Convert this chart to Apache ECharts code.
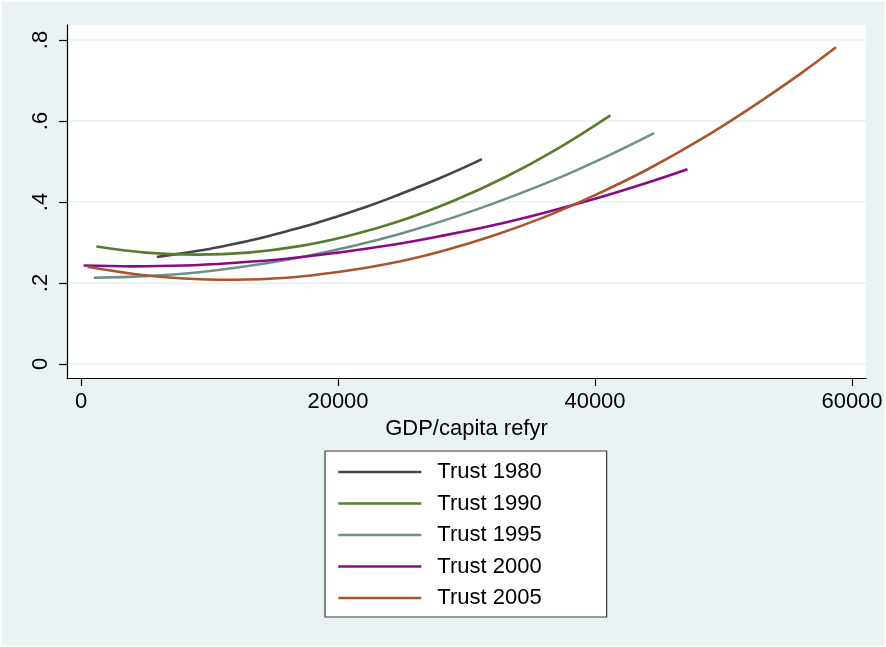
<!DOCTYPE html>
<html>
<head>
<meta charset="utf-8">
<script src="https://cdn.jsdelivr.net/npm/echarts@6/dist/echarts.min.js"></script>
<style>
  html, body { margin: 0; padding: 0; background: #ffffff; }
  #chart { width: 886px; height: 647px; }
</style>
</head>
<body>
<div id="chart"></div>
<script>
// ---- data (GDP/capita, fitted trust) ----
const gdp1980   = [5900, 8000, 10000, 12000, 14000, 16000, 18000, 20000, 22000, 24000, 26000, 28000, 30000, 31200];
const trust1980 = [0.264, 0.274, 0.284, 0.297, 0.311, 0.328, 0.345, 0.365, 0.386, 0.409, 0.434, 0.460, 0.488, 0.506];

const gdp1990   = [1200, 5000, 9000, 13000, 17000, 21000, 25000, 29000, 33000, 37000, 41200];
const trust1990 = [0.290, 0.275, 0.270, 0.275, 0.291, 0.318, 0.355, 0.403, 0.461, 0.530, 0.614];

const gdp1995   = [1000, 5000, 9000, 13000, 17000, 21000, 25000, 29000, 33000, 37000, 41000, 44600];
const trust1995 = [0.213, 0.217, 0.226, 0.242, 0.263, 0.290, 0.323, 0.362, 0.407, 0.457, 0.514, 0.570];

const gdp2000   = [200, 4000, 8000, 12000, 16000, 20000, 24000, 28000, 32000, 36000, 40000, 44000, 47200];
const trust2000 = [0.243, 0.241, 0.243, 0.250, 0.260, 0.275, 0.293, 0.316, 0.342, 0.373, 0.408, 0.447, 0.481];

const gdp2005   = [500, 4000, 8000, 12000, 16000, 20000, 24000, 28000, 32000, 36000, 40000, 44000, 48000, 52000, 56000, 58750];
const trust2005 = [0.240, 0.223, 0.211, 0.208, 0.213, 0.227, 0.248, 0.278, 0.316, 0.362, 0.417, 0.479, 0.550, 0.630, 0.717, 0.782];

const seriesNames = ['Trust 1980', 'Trust 1990', 'Trust 1995', 'Trust 2000', 'Trust 2005'];
const xTicks = [0, 20000, 40000, 60000];
const yTicks = [0, 0.2, 0.4, 0.6, 0.8];
const xTitle = 'GDP/capita refyr';

const colors = ['#454545', '#5a7b2c', '#6f9185', '#8a0a8a', '#a9552e'];

function pairs(xs, ys) { return xs.map((x, i) => [x, ys[i]]); }
const allData = [
  pairs(gdp1980, trust1980),
  pairs(gdp1990, trust1990),
  pairs(gdp1995, trust1995),
  pairs(gdp2000, trust2000),
  pairs(gdp2005, trust2005)
];

const FONT = '"Liberation Sans", Arial, Helvetica, sans-serif';

const chart = echarts.init(document.getElementById('chart'), null, { renderer: 'canvas' });
chart.setOption({
  backgroundColor: '#eaf2f3',
  animation: false,
  textStyle: { fontFamily: FONT },
  graphic: [{
    type: 'rect',
    shape: { x: 0.5, y: 0.5, width: 885, height: 646 },
    style: { fill: 'none', stroke: '#ffffff', lineWidth: 2 },
    silent: true
  }],
  grid: {
    left: 67, right: 20, top: 25, bottom: 269,
    show: true, backgroundColor: '#ffffff', borderWidth: 0
  },
  xAxis: {
    type: 'value',
    min: -1089, max: 61089,
    name: xTitle,
    nameLocation: 'middle',
    nameGap: 35,
    nameTextStyle: { fontSize: 22, color: '#000', fontFamily: FONT },
    axisLine: { show: true, onZero: false, lineStyle: { color: '#000', width: 1.2 } },
    axisTick: { show: true, length: 8, customValues: xTicks, lineStyle: { color: '#000', width: 1.2 } },
    axisLabel: { customValues: xTicks, margin: 13, fontSize: 22, color: '#000', fontFamily: FONT,
      formatter: v => String(Math.round(v)) },
    splitLine: { show: false }
  },
  yAxis: {
    type: 'value',
    min: -0.0346, max: 0.837,
    axisLine: { show: true, onZero: false, lineStyle: { color: '#000', width: 1.2 } },
    axisTick: { show: true, length: 8, customValues: yTicks, lineStyle: { color: '#000', width: 1.2 } },
    axisLabel: {
      customValues: yTicks, rotate: 90, margin: 15, fontSize: 22, color: '#000', fontFamily: FONT,
      formatter: v => (Math.abs(v) < 1e-9 ? '0' : String(+v.toFixed(2)).replace(/^0\./, '.'))
    },
    splitLine: { show: true, lineStyle: { color: '#e8f0f1', width: 1.6 } }
  },
  legend: {
    orient: 'vertical',
    left: 325, top: 451,
    data: seriesNames,
    backgroundColor: '#ffffff',
    borderColor: '#3a3a3a',
    borderWidth: 1.2,
    borderRadius: 0,
    padding: [10, 65, 8, 12],
    itemWidth: 83,
    itemHeight: 22,
    itemGap: 9.5,
    itemStyle: { opacity: 0 },
    lineStyle: { width: 2.6 },
    textStyle: { fontSize: 22, color: '#000', fontFamily: FONT, lineHeight: 22, padding: [0, 0, 0, 11] }
  },
  series: seriesNames.map((name, i) => ({
    name: name,
    type: 'line',
    data: allData[i],
    smooth: 0.4,
    symbol: 'none',
    showSymbol: false,
    lineStyle: { color: colors[i], width: 2.6 },
    itemStyle: { color: colors[i] },
    z: 2 + i
  }))
});
</script>
</body>
</html>
